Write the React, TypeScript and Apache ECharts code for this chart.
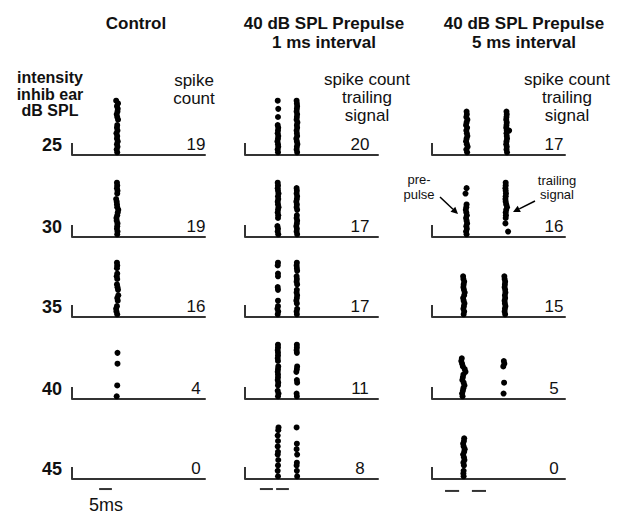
import React, { useEffect, useRef } from "react";
import * as echarts from "echarts";

// ---------- labels ----------
const intensities = ["25", "30", "35", "40", "45"];
const columnTitles = ["Control", "40 dB SPL Prepulse\n1 ms interval", "40 dB SPL Prepulse\n5 ms interval"];
const countHeaders = ["spike\ncount", "spike count\ntrailing\nsignal", "spike count\ntrailing\nsignal"];
const controlCounts = ["19", "19", "16", "4", "0"];
const prepulse1Counts = ["20", "17", "17", "11", "8"];
const prepulse5Counts = ["17", "16", "15", "5", "0"];

// ---------- spikes: [time (ms), trial] ----------
const control25 = [[17.0,1],[16.8,2],[17.1,3],[16.9,4],[17.2,5],[16.9,6],[17.0,7],[16.7,8],[17.1,9],[16.9,10],[17.0,11],[17.3,13],[17.0,14],[16.8,15],[17.1,16],[17.2,17],[16.9,18],[17.3,19],[16.6,20]];
const control30 = [[17.0,1],[17.1,2],[16.9,3],[17.0,4],[17.1,5],[16.8,6],[16.7,7],[17.0,8],[17.2,9],[17.4,10],[17.0,11],[16.9,12],[16.8,13],[16.6,14],[17.0,16],[17.1,17],[16.9,18],[17.0,19],[16.9,20]];
const control35 = [[17.0,1],[16.7,2],[16.6,3],[16.9,4],[17.2,6],[17.0,7],[17.4,8],[17.3,10],[17.1,11],[16.9,12],[17.0,14],[16.8,15],[17.0,16],[16.9,18],[17.0,19],[16.9,20]];
const control40 = [[16.8,1],[17.0,5],[17.1,13],[17.1,17]];
const control45: number[][] = [];

const pp1Pre25 = [[12.4,1],[12.3,2],[12.5,3],[12.4,4],[12.2,5],[12.4,6],[12.5,7],[12.3,8],[12.4,9],[12.5,10],[12.3,11],[12.4,14],[12.5,17],[12.3,20]];
const pp1Trail25 = [[19.6,1],[19.4,2],[19.5,3],[19.7,4],[19.5,5],[19.3,6],[19.6,7],[19.5,8],[19.4,9],[19.6,10],[19.5,11],[19.7,12],[19.4,13],[19.5,14],[19.6,15],[19.4,16],[19.5,17],[19.6,18],[19.5,19],[19.4,20]];
const pp1Pre30 = [[12.5,1],[12.3,2],[12.4,3],[12.2,4],[12.4,7],[12.5,8],[12.3,9],[12.4,10],[12.6,11],[12.4,12],[12.3,13],[12.5,14],[12.4,15],[12.6,16],[12.4,17],[12.3,18],[12.4,19],[12.3,20]];
const pp1Trail30 = [[19.6,1],[19.4,2],[19.5,3],[19.3,4],[19.5,5],[19.6,6],[19.4,7],[19.5,8],[19.6,10],[19.4,11],[19.5,12],[19.3,13],[19.5,14],[19.6,15],[19.4,16],[19.5,17],[19.4,18]];
const pp1Pre35 = [[12.3,1],[12.5,2],[12.2,3],[12.4,4],[12.4,6],[12.4,10],[12.3,11],[12.4,15],[12.4,16],[12.3,19],[12.4,20]];
const pp1Trail35 = [[19.5,1],[19.4,2],[19.6,3],[19.5,5],[19.3,6],[19.5,7],[19.6,8],[19.4,9],[19.5,10],[19.6,12],[19.4,13],[19.5,14],[19.4,15],[19.6,17],[19.5,18],[19.4,19],[19.5,20]];
const pp1Pre40 = [[12.4,1],[12.6,2],[12.3,3],[12.4,5],[12.5,6],[12.3,7],[12.4,8],[12.4,9],[12.3,10],[12.4,11],[12.5,12],[12.4,14],[12.3,15],[12.4,16],[12.4,17],[12.3,18],[12.4,19],[12.4,20]];
const pp1Trail40 = [[19.5,1],[19.4,2],[19.6,6],[19.5,7],[19.3,10],[19.5,11],[19.6,12],[19.5,17],[19.4,18],[19.5,19],[19.5,20]];
const pp1Pre45 = [[12.4,1],[12.3,3],[12.4,5],[12.5,7],[12.3,9],[12.4,10],[12.3,12],[12.4,14],[12.3,16],[12.5,18],[12.6,19]];
const pp1Trail45 = [[19.6,1],[19.5,3],[19.4,5],[19.5,6],[19.6,9],[19.4,11],[19.5,13],[19.4,19]];

const pp5Pre25 = [[13.2,1],[12.9,2],[13.4,3],[13.1,4],[12.8,5],[13.0,6],[13.3,7],[13.1,8],[12.9,9],[13.2,10],[12.8,11],[13.0,12],[13.3,13],[12.9,14],[13.1,15],[13.0,16]];
const pp5Trail25 = [[28.2,1],[28.0,2],[28.1,3],[27.9,4],[28.0,5],[28.2,6],[28.1,7],[28.0,8],[29.0,9],[28.1,9],[27.9,10],[28.0,11],[28.1,12],[27.9,13],[28.0,14],[28.1,15],[28.0,16]];
const pp5Pre30 = [[13.0,1],[12.8,2],[13.1,3],[12.9,4],[13.2,5],[13.0,6],[12.8,7],[13.1,8],[12.9,9],[12.7,10],[12.9,11],[13.0,12],[12.6,16],[13.0,18]];
const pp5Trail30 = [[28.6,2],[27.6,5],[27.7,7],[27.8,8],[27.7,9],[27.9,10],[28.2,11],[27.9,12],[27.7,13],[27.6,14],[27.7,15],[27.8,16],[27.7,17],[27.6,18],[27.7,19],[27.7,20]];
const pp5Pre35 = [[11.9,1],[12.1,2],[11.8,3],[12.0,4],[12.2,5],[11.9,6],[11.7,7],[12.1,8],[12.3,9],[12.0,10],[11.8,11],[11.9,12],[12.1,13],[11.8,14],[11.7,15]];
const pp5Trail35 = [[27.5,1],[27.3,2],[27.4,3],[27.6,4],[27.4,5],[27.3,6],[27.5,7],[27.4,8],[27.6,9],[27.5,10],[27.3,11],[27.4,12],[27.5,13],[27.3,14],[27.2,15]];
const pp5Pre40 = [[11.5,1],[11.3,2],[11.6,3],[11.8,4],[12.2,5],[11.9,6],[11.4,7],[11.6,8],[11.8,9],[12.6,10],[12.3,11],[11.6,12],[11.3,13],[11.0,14],[11.2,15]];
const pp5Trail40 = [[26.9,2],[27.1,6],[26.8,12],[27.2,13],[27.0,14]];
const pp5Pre45 = [[11.9,1],[11.8,2],[11.9,3],[12.0,5],[11.8,6],[12.2,7],[12.0,8],[11.7,9],[12.1,10],[12.3,11],[11.9,12],[11.7,13],[12.0,14],[12.1,15]];
const pp5Trail45: number[][] = [];

// scale bars (ms) under the last row of each column
const controlScaleBars = [[10.2, 15.0]];
const prepulse1ScaleBars = [[5.6, 10.5], [11.7, 16.5]];
const prepulse5ScaleBars = [[4.9, 10.2], [15.0, 20.3]];

const panels = [
  [[control25], [control30], [control35], [control40], [control45]],
  [[pp1Pre25, pp1Trail25], [pp1Pre30, pp1Trail30], [pp1Pre35, pp1Trail35], [pp1Pre40, pp1Trail40], [pp1Pre45, pp1Trail45]],
  [[pp5Pre25, pp5Trail25], [pp5Pre30, pp5Trail30], [pp5Pre35, pp5Trail35], [pp5Pre40, pp5Trail40], [pp5Pre45, pp5Trail45]],
];
const counts = [controlCounts, prepulse1Counts, prepulse5Counts];
const scaleBars = [controlScaleBars, prepulse1ScaleBars, prepulse5ScaleBars];

// ---------- layout ----------
const FONT = "'Liberation Sans', Arial, Helvetica, sans-serif";
const INK = "#000";
const LINE = "#333";
const colLeft = [72, 245, 432];
const colTitleX = [136, 324, 524];
const colHeaderX = [194, 367, 567];
const colCountX = [196, 360, 554];
const rowBase = [155, 237, 317, 399, 479];
const PANEL_W = 133;
const PANEL_H = 57;
const T_MAX = 50;
const TRIAL_MAX = 21;
const STUB = 4.4;
const scaleBarOffset = [-3.7, -3.7, -4.4];

export default function App() {
  const ref = useRef<HTMLDivElement>(null);
  useEffect(() => {
    if (!ref.current) return;
    const chart = echarts.init(ref.current, null, { renderer: "svg" });
    const grid: any[] = [];
    const xAxis: any[] = [];
    const yAxis: any[] = [];
    const series: any[] = [];
    const graphic: any[] = [];

    for (let c = 0; c < 3; c++) {
      for (let r = 0; r < 5; r++) {
        const gi = grid.length;
        grid.push({ left: colLeft[c], top: rowBase[r] - PANEL_H, width: PANEL_W, height: PANEL_H });
        xAxis.push({
          gridIndex: gi, type: "value", min: 0, max: T_MAX,
          axisLine: { show: true, onZero: false, lineStyle: { color: LINE, width: 2 } },
          axisTick: { show: false }, axisLabel: { show: false }, splitLine: { show: false },
        });
        yAxis.push({ gridIndex: gi, type: "value", min: 0, max: TRIAL_MAX, show: false });
        // L-stub at start of baseline
        series.push({
          type: "line", xAxisIndex: gi, yAxisIndex: gi, data: [[0, 0], [0, STUB]],
          showSymbol: false, silent: true, lineStyle: { color: LINE, width: 2 },
        });
        panels[c][r].forEach((spikes) => {
          series.push({
            type: "scatter", xAxisIndex: gi, yAxisIndex: gi, data: spikes,
            symbol: "circle", symbolSize: 6, itemStyle: { color: INK, opacity: 1 }, silent: true,
          });
        });
        if (r === 4) {
          scaleBars[c].forEach((bar) => {
            series.push({
              type: "line", xAxisIndex: gi, yAxisIndex: gi, clip: false,
              data: [[bar[0], scaleBarOffset[c]], [bar[1], scaleBarOffset[c]]],
              showSymbol: false, silent: true, lineStyle: { color: LINE, width: 2 },
            });
          });
        }
        graphic.push({
          type: "text", x: colCountX[c], y: rowBase[r] - 11,
          style: { text: counts[c][r], font: `17px ${FONT}`, fill: "#111", align: "center", verticalAlign: "middle" },
        });
      }
      graphic.push({
        type: "text", x: colTitleX[c], y: c === 0 ? 23 : 32.5,
        style: { text: columnTitles[c], font: `bold 17px ${FONT}`, fill: "#111", align: "center", verticalAlign: "middle", lineHeight: 19 },
      });
      graphic.push({
        type: "text", x: colHeaderX[c], y: c === 0 ? 89 : 97,
        style: { text: countHeaders[c], font: `17px ${FONT}`, fill: "#111", align: "center", verticalAlign: "middle", lineHeight: 18 },
      });
    }

    intensities.forEach((lab, r) => {
      graphic.push({
        type: "text", x: 62, y: rowBase[r] - 10,
        style: { text: lab, font: `bold 18px ${FONT}`, fill: "#111", align: "right", verticalAlign: "middle" },
      });
    });
    graphic.push({
      type: "text", x: 50, y: 94,
      style: { text: "intensity\ninhib ear\ndB SPL", font: `bold 16px ${FONT}`, fill: "#111", align: "center", verticalAlign: "middle", lineHeight: 16.5 },
    });
    graphic.push({
      type: "text", x: 106, y: 505,
      style: { text: "5ms", font: `18px ${FONT}`, fill: "#111", align: "center", verticalAlign: "middle" },
    });
    // annotations
    graphic.push({
      type: "text", x: 419, y: 179,
      style: { text: "pre-", font: `13px ${FONT}`, fill: "#111", align: "center", verticalAlign: "middle" },
    });
    graphic.push({
      type: "text", x: 419, y: 194,
      style: { text: "pulse", font: `13px ${FONT}`, fill: "#111", align: "center", verticalAlign: "middle" },
    });
    graphic.push({
      type: "text", x: 557, y: 180,
      style: { text: "trailing", font: `13px ${FONT}`, fill: "#111", align: "center", verticalAlign: "middle" },
    });
    graphic.push({
      type: "text", x: 557, y: 194,
      style: { text: "signal", font: `13px ${FONT}`, fill: "#111", align: "center", verticalAlign: "middle" },
    });
    graphic.push({ type: "line", shape: { x1: 440, y1: 197, x2: 453, y2: 209.2 }, style: { stroke: INK, lineWidth: 1.5 } });
    graphic.push({ type: "polygon", shape: { points: [[458, 214], [450.5, 211.7], [455.3, 206.7]] }, style: { fill: INK } });
    graphic.push({ type: "line", shape: { x1: 535, y1: 201, x2: 519.3, y2: 208.9 }, style: { stroke: INK, lineWidth: 1.5 } });
    graphic.push({ type: "polygon", shape: { points: [[513, 212], [517.7, 205.7], [520.8, 212.0]] }, style: { fill: INK } });

    chart.setOption({ animation: false, backgroundColor: "#fff", grid, xAxis, yAxis, series, graphic });
    return () => chart.dispose();
  }, []);
  return <div ref={ref} style={{ position: "absolute", left: 0, top: 0, width: 624, height: 516 }} />;
}
